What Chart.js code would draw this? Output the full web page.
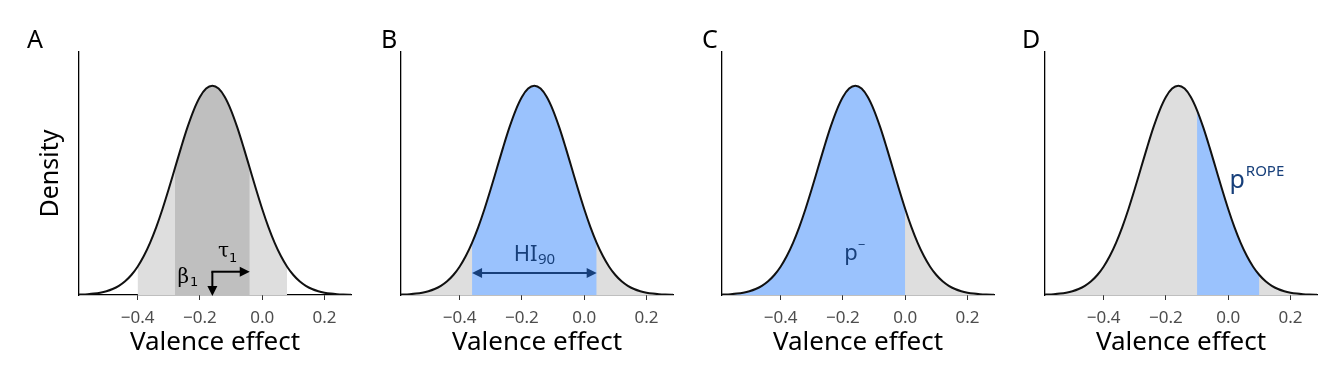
<!DOCTYPE html>
<html>
<head>
<meta charset="utf-8">
<script src="https://cdn.jsdelivr.net/npm/chart.js@4"></script>
<style>
  html, body { margin: 0; padding: 0; background: #ffffff; }
  body { width: 1344px; height: 384px; position: relative; overflow: hidden; }
  canvas { position: absolute; top: 0; }
</style>
</head>
<body>
<canvas id="panelA" width="365" height="384" style="left:0px"></canvas>
<canvas id="panelB" width="365" height="384" style="left:322px"></canvas>
<canvas id="panelC" width="365" height="384" style="left:643px"></canvas>
<canvas id="panelD" width="365" height="384" style="left:966px"></canvas>
<script>
// ---------------- data ----------------
const valenceEffect = [-0.59, -0.58, -0.56, -0.54, -0.52, -0.50, -0.48, -0.46, -0.44, -0.42,
  -0.40, -0.38, -0.36, -0.34, -0.32, -0.30, -0.28, -0.26, -0.24, -0.22,
  -0.20, -0.18, -0.16, -0.14, -0.12, -0.10, -0.08, -0.06, -0.04, -0.02,
  0.00, 0.02, 0.04, 0.06, 0.08, 0.10, 0.12, 0.14, 0.16, 0.18,
  0.20, 0.22, 0.24, 0.26, 0.28, 0.29];
const density = [0.0054, 0.0073, 0.0129, 0.0221, 0.0369, 0.0601, 0.0950, 0.1461, 0.2185, 0.3180,
  0.4499, 0.6193, 0.8290, 1.0793, 1.3667, 1.6833, 2.0164, 2.3492, 2.6621, 2.9339,
  3.1448, 3.2786, 3.3245, 3.2786, 3.1448, 2.9339, 2.6621, 2.3492, 2.0164, 1.6833,
  1.3667, 1.0793, 0.8290, 0.6193, 0.4499, 0.3180, 0.2185, 0.1461, 0.0950, 0.0601,
  0.0369, 0.0221, 0.0129, 0.0073, 0.0040, 0.0029];
const tickValues = [-0.4, -0.2, 0.0, 0.2];
const tickLabels = ['\u22120.4', '\u22120.2', '0.0', '0.2'];
const panelLetters = ['A', 'B', 'C', 'D'];
const posteriorMean = -0.16;
const posteriorSd = 0.12;
const fullRange = [-0.59, 0.29];
const rangeA2sd = [-0.40, 0.08];
const rangeA1sd = [-0.28, -0.04];
const rangeHI90 = [-0.36, 0.04];
const rangePMinus = [-0.59, 0.00];
const rangeROPE = [-0.10, 0.10];
const arrowHeightA = 0.37;
const arrowHeightB = 0.35;

// ---------------- styles ----------------
const FONT = '"Noto Sans", "Open Sans", sans-serif';
const LIGHT = '#dedede';
const DARK = '#bfbfbf';
const BLUE = '#9ac2fd';
const NAVY = '#173f7a';

function pointsIn(range) {
  const pts = [];
  for (let i = 0; i < valenceEffect.length; i++) {
    const x = valenceEffect[i];
    if (x >= range[0] - 1e-9 && x <= range[1] + 1e-9) pts.push({ x: x, y: density[i] });
  }
  return pts;
}

function shade(range, color, order) {
  return {
    data: pointsIn(range), order: order,
    borderWidth: 0, borderColor: 'rgba(0,0,0,0)', backgroundColor: color,
    fill: 'origin', pointRadius: 0, cubicInterpolationMode: 'monotone'
  };
}
function curve() {
  return {
    data: pointsIn(fullRange), order: 0,
    borderWidth: 2, borderColor: '#111111', fill: false,
    pointRadius: 0, cubicInterpolationMode: 'monotone'
  };
}

// ---------------- annotation helpers ----------------
function head(ctx, x, y, ang, len, half) {
  const c = Math.cos(ang), s = Math.sin(ang);
  ctx.beginPath();
  ctx.moveTo(x, y);
  ctx.lineTo(x - len * c - half * s, y - len * s + half * c);
  ctx.lineTo(x - len * c + half * s, y - len * s - half * c);
  ctx.closePath();
  ctx.fill();
}
function arrow(ctx, x1, y1, x2, y2, both, color) {
  const len = 10, half = 5;
  const ang = Math.atan2(y2 - y1, x2 - x1);
  const c = Math.cos(ang), s = Math.sin(ang);
  ctx.strokeStyle = color; ctx.fillStyle = color; ctx.lineWidth = 2;
  ctx.beginPath();
  ctx.moveTo(both ? x1 + (len - 1) * c : x1, both ? y1 + (len - 1) * s : y1);
  ctx.lineTo(x2 - (len - 1) * c, y2 - (len - 1) * s);
  ctx.stroke();
  head(ctx, x2, y2, ang, len, half);
  if (both) head(ctx, x1, y1, ang + Math.PI, len, half);
}
function rich(ctx, parts, x, y, align, color) {
  ctx.fillStyle = color; ctx.textBaseline = 'alphabetic'; ctx.textAlign = 'left';
  let total = 0;
  const widths = parts.map(p => { ctx.font = p.font; const w = ctx.measureText(p.t).width + (p.gap || 0); total += w; return w; });
  let cx = align === 'center' ? x - total / 2 : (align === 'right' ? x - total : x);
  parts.forEach((p, i) => { ctx.font = p.font; ctx.fillText(p.t, cx + (p.gap || 0), y + (p.dy || 0)); cx += widths[i]; });
}

const annotations = {
  panelA(ctx, xs, ys) {
    const mx = xs.getPixelForValue(posteriorMean);
    const ay = ys.getPixelForValue(arrowHeightA);
    arrow(ctx, mx, ay, mx, ys.getPixelForValue(0) + 1, false, '#000');
    ctx.lineCap = 'square';
    arrow(ctx, mx, ay, xs.getPixelForValue(posteriorMean + posteriorSd), ay, false, '#000');
    rich(ctx, [{ t: '\u03B2', font: '20px "DejaVu Serif", serif' }, { t: '1', font: '13px "DejaVu Sans", sans-serif', dy: 3, gap: 1 }],
      xs.getPixelForValue(-0.205), ys.getPixelForValue(0.19), 'right', '#000');
    rich(ctx, [{ t: '\u03C4', font: '20px "DejaVu Serif", serif' }, { t: '1', font: '13px "DejaVu Sans", sans-serif', dy: 5, gap: 0 }],
      xs.getPixelForValue(-0.142), ys.getPixelForValue(0.61), 'left', '#000');
  },
  panelB(ctx, xs, ys) {
    const ay = ys.getPixelForValue(arrowHeightB);
    arrow(ctx, xs.getPixelForValue(rangeHI90[0]), ay, xs.getPixelForValue(rangeHI90[1]), ay, true, NAVY);
    rich(ctx, [{ t: 'HI', font: '22px ' + FONT }, { t: '90', font: '15px ' + FONT, dy: 3, gap: 0.5 }],
      xs.getPixelForValue(posteriorMean), ys.getPixelForValue(0.545), 'center', NAVY);
  },
  panelC(ctx, xs, ys) {
    rich(ctx, [{ t: 'p', font: '22px ' + FONT }, { t: '\u2212', font: '13px ' + FONT, dy: -11, gap: 0 }],
      xs.getPixelForValue(-0.162), ys.getPixelForValue(0.556), 'center', NAVY);
  },
  panelD(ctx, xs, ys) {
    rich(ctx, [{ t: 'p', font: '25px ' + FONT }, { t: 'ROPE', font: '15px ' + FONT, dy: -12.6, gap: 1 }],
      xs.getPixelForValue(0.004), ys.getPixelForValue(1.695), 'left', NAVY);
  }
};
const letterX = { panelA: 27, panelB: 59, panelC: 59, panelD: 56 };

const decorPlugin = {
  id: 'panelDecor',
  afterDraw(chart) {
    const ctx = chart.ctx, id = chart.canvas.id;
    ctx.save();
    ctx.font = '25px ' + FONT; ctx.fillStyle = '#000'; ctx.textBaseline = 'alphabetic'; ctx.textAlign = 'left';
    ctx.fillText(chart.options.plugins.panelDecor.letter, letterX[id], 47.5);
    annotations[id](ctx, chart.scales.x, chart.scales.y);
    ctx.restore();
  }
};

function makeChart(id, letter, datasets, showYTitle) {
  new Chart(document.getElementById(id), {
    type: 'line',
    data: { datasets: datasets },
    plugins: [decorPlugin],
    options: {
      responsive: false, animation: false, devicePixelRatio: 1,
      layout: { padding: { top: 52, right: 14, left: 0, bottom: 0 } },
      plugins: { legend: { display: false }, tooltip: { enabled: false }, title: { display: false },
        panelDecor: { letter: letter } },
      scales: {
        x: {
          type: 'linear', min: -0.588, max: 0.285,
          afterBuildTicks(s) { s.ticks = tickValues.map(v => ({ value: v })); },
          afterFit(s) { s.height = 89; },
          ticks: {
            autoSkip: false, maxRotation: 0, padding: 8, color: '#4d4d4d',
            font: { family: FONT, size: 17 },
            callback(v) { const i = tickValues.findIndex(t => Math.abs(t - v) < 1e-9); return i >= 0 ? tickLabels[i] : ''; }
          },
          grid: { display: true, drawOnChartArea: false, drawTicks: true, tickLength: 5, tickColor: '#333333', tickWidth: 1 },
          border: { display: true, color: '#000000', width: 1.3 },
          title: { display: true, text: 'Valence effect', color: '#000', font: { family: FONT, size: 26 }, padding: { top: 0, bottom: 26 } }
        },
        y: {
          type: 'linear', min: 0, max: 3.86,
          afterFit(s) { s.width = 79; },
          ticks: { display: false },
          grid: { display: false },
          border: { display: true, color: '#000000', width: 1.3 },
          title: { display: showYTitle, text: 'Density', color: '#000', font: { family: FONT, size: 25 }, padding: { top: 36, bottom: 0 } }
        }
      }
    }
  });
}

makeChart('panelA', panelLetters[0], [curve(), shade(rangeA1sd, DARK, 1), shade(rangeA2sd, LIGHT, 2)], true);
makeChart('panelB', panelLetters[1], [curve(), shade(rangeHI90, BLUE, 1), shade(fullRange, LIGHT, 2)], false);
makeChart('panelC', panelLetters[2], [curve(), shade(rangePMinus, BLUE, 1), shade(fullRange, LIGHT, 2)], false);
makeChart('panelD', panelLetters[3], [curve(), shade(rangeROPE, BLUE, 1), shade(fullRange, LIGHT, 2)], false);
</script>
</body>
</html>
